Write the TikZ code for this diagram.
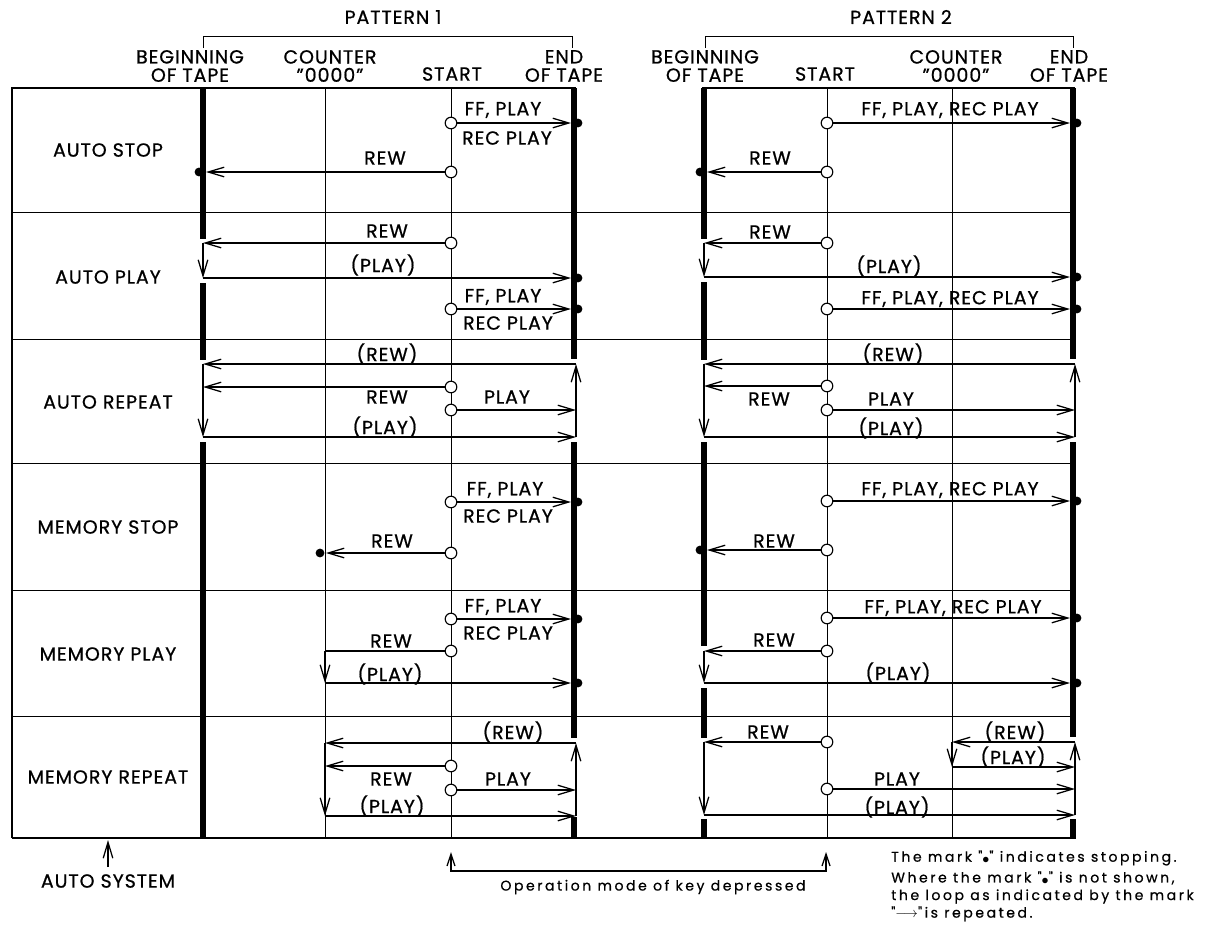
\documentclass[tikz,border=0pt]{standalone}
\usepackage{fontspec}
\setmainfont{Poppins}[LetterSpace=5, FakeBold=0.8]
\newfontfamily\notefont{Poppins}[LetterSpace=18, FakeBold=0.6]
\usetikzlibrary{arrows.meta}

\newcommand{\stopmark}{\raisebox{-0.25ex}{$\bullet$}}

\tikzset{
  lbl/.style={font=\fontsize{13.5}{13}\selectfont, inner sep=0pt, align=center},
  note/.style={font=\notefont\fontsize{10}{12.5}\selectfont, inner sep=0pt, align=left},
  gridline/.style={line width=0.6pt},
  frameline/.style={line width=1.2pt},
  tapebar/.style={line width=1.5mm},
  track/.style={line width=0.9pt},
  flow/.style={track, -{Straight Barb[length=4mm,width=2.4mm]}},
  span/.style={track, {Straight Barb[length=3mm,width=2mm]}-{Straight Barb[length=3mm,width=2mm]}},
  startpt/.style={circle, draw, fill=white, line width=0.8pt, inner sep=0pt, minimum size=2.9mm},
  stopdot/.style={circle, fill, inner sep=0pt, minimum size=2.2mm},
}

\begin{document}
\begin{tikzpicture}[x=0.25mm, y=-0.25mm]
\useasboundingbox (0,0) rectangle (1222,941);

% table frame, rows and the thin START / COUNTER lines
\draw[frameline] (12,838) -- (12,88) -- (576,88);
\draw[frameline] (702,88) -- (1075,88);
\draw[frameline] (12,838) -- (1076,838);
\foreach \y in {212,339,463,590,716}
  \draw[gridline] (12,\y) -- (1073,\y);
\foreach \x in {325,451,827,952}
  \draw[gridline] (\x,88) -- (\x,838);

% beginning / end of tape
\draw[tapebar] (203,88) -- (203,239) (203,283) -- (203,360) (203,442) -- (203,838);
\draw[tapebar] (574,88) -- (574,359) (574,442) -- (574,738) (574,817) -- (574,838);
\draw[tapebar] (704,88) -- (704,239) (704,282) -- (704,360) (704,442) -- (704,646)
  (704,688) -- (704,738) (704,819) -- (704,838);
\draw[tapebar] (1073,88) -- (1073,359) (1073,442) -- (1073,737) (1073,819) -- (1073,838);

% headings
\node[lbl] (pat1) at (393,17) {PATTERN 1};
\node[lbl] (pat2) at (901,17) {PATTERN 2};
\draw[gridline] (203,48) -- (203,36) -- (572,36) -- (572,48);
\draw[gridline] (705,48) -- (705,36) -- (1073,36) -- (1073,48);
\node[lbl] (begA) at (190,66) {BEGINNING\\OF TAPE};
\node[lbl] (cntA) at (330,66) {COUNTER\\"0000"};
\node[lbl] (staA) at (452,74) {START};
\node[lbl] (endA) at (564,66) {END\\OF TAPE};
\node[lbl] (begB) at (705,66) {BEGINNING\\OF TAPE};
\node[lbl] (staB) at (825,74) {START};
\node[lbl] (cntB) at (956,66) {COUNTER\\"0000"};
\node[lbl] (endB) at (1069,66) {END\\OF TAPE};

% modes
\foreach \n/\y/\t in {m1/150/AUTO STOP, m2/277/AUTO PLAY, m3/402/AUTO REPEAT,
    m4/527/MEMORY STOP, m5/654/MEMORY PLAY, m6/777/MEMORY REPEAT}
  \node[lbl] (\n) at (108,\y) {\t};

% key pressed at START
\foreach \n/\x/\y in {a1ff/451/123, a1rew/451/172, a2rew/451/243, a2ff/451/309,
    a3rew/451/387, a3play/451/410, a4ff/451/502, a4rew/451/553,
    a5ff/451/619, a5rew/451/651, a6rew/451/766, a6play/451/790,
    b1ff/827/123, b1rew/827/172, b2rew/827/243, b2ff/827/309,
    b3rew/827/386, b3play/827/410, b4ff/827/501, b4rew/827/550,
    b5ff/827/618, b5rew/827/651, b6rew/827/742, b6play/827/789}
  \node[startpt] (\n) at (\x,\y) {};

% stops
\foreach \n/\x/\y in {a1ffstop/578/123, a1rewstop/199/172, a2playstop/578/278,
    a2ffstop/578/309, a4ffstop/578/502, a4rewstop/320/553, a5ffstop/578/619,
    a5playstop/578/683, b1ffstop/1077/123, b1rewstop/700/172, b2playstop/1077/277,
    b2ffstop/1077/309, b4ffstop/1077/501, b4rewstop/700/550, b5ffstop/1077/618,
    b5playstop/1077/683}
  \node[stopdot] (\n) at (\x,\y) {};

% ends and corners of the runs
\foreach \n/\x/\y in {a1ffend/571/123, a1rewend/206/172,
    a2rewend/203/243, a2playbeg/203/278, a2playend/571/278, a2ffend/571/309,
    a3tr/576/364, a3tl/203/364, a3bl/203/437, a3br/576/437, a3rewend/203/387, a3playend/576/410,
    a4ffend/571/502, a4rewend/326/553,
    a5ffend/571/619, a5rewend/325/651, a5playbeg/325/683, a5playend/571/683,
    a6tr/576/743, a6tl/325/743, a6bl/325/816, a6br/576/816, a6rewend/325/766, a6playend/576/790,
    b1ffend/1070/123, b1rewend/707/172,
    b2rewend/704/243, b2playbeg/704/277, b2playend/1070/277, b2ffend/1070/309,
    b3tr/1075/364, b3tl/704/364, b3bl/704/437, b3br/1075/437, b3rewend/704/386, b3playend/1075/410,
    b4ffend/1070/501, b4rewend/707/550,
    b5ffend/1070/618, b5rewend/704/651, b5playbeg/704/683, b5playend/1070/683,
    b6rewend/704/742, b6bl/704/815, b6br/1075/815, b6tr/1075/742,
    b6ctop/952/742, b6cbot/952/767, b6cend/1075/767, b6playend/1075/789}
  \coordinate (\n) at (\x,\y);

\foreach \a/\b in {a1ff/a1ffend, a1rew/a1rewend,
    a2rew/a2rewend, a2rewend/a2playbeg, a2playbeg/a2playend, a2ff/a2ffend,
    a3tr/a3tl, a3tl/a3bl, a3bl/a3br, a3br/a3tr, a3rew/a3rewend, a3play/a3playend,
    a4ff/a4ffend, a4rew/a4rewend,
    a5ff/a5ffend, a5rewend/a5playbeg, a5playbeg/a5playend,
    a6tr/a6tl, a6tl/a6bl, a6bl/a6br, a6br/a6tr, a6rew/a6rewend, a6play/a6playend,
    b1ff/b1ffend, b1rew/b1rewend,
    b2rew/b2rewend, b2rewend/b2playbeg, b2playbeg/b2playend, b2ff/b2ffend,
    b3tr/b3tl, b3tl/b3bl, b3bl/b3br, b3br/b3tr, b3rew/b3rewend, b3play/b3playend,
    b4ff/b4ffend, b4rew/b4rewend,
    b5ff/b5ffend, b5rew/b5rewend, b5rewend/b5playbeg, b5playbeg/b5playend,
    b6rew/b6rewend, b6rewend/b6bl, b6bl/b6br, b6br/b6tr, b6tr/b6ctop,
    b6ctop/b6cbot, b6cbot/b6cend, b6play/b6playend}
  \draw[flow] (\a) -- (\b);
\draw[track] (a5rew) -- (a5rewend);

% key names
\foreach \n/\x/\y/\t in {a1ffl/503/110/{FF, PLAY}, a1recl/507/138/REC PLAY, a1rewl/385/158/REW,
    a2rewl/387/231/REW, a2playl/383/265/(PLAY), a2ffl/503/297/{FF, PLAY}, a2recl/508/323/REC PLAY,
    a3rrl/387/354/(REW), a3rewl/387/397/REW, a3playl/507/397/PLAY, a3ppl/385/427/(PLAY),
    a4ffl/505/490/{FF, PLAY}, a4recl/508/516/REC PLAY, a4rewl/392/541/REW,
    a5ffl/503/607/{FF, PLAY}, a5recl/508/633/REC PLAY, a5rewl/391/641/REW, a5playl/390/674/(PLAY),
    a6rrl/513/732/(REW), a6rewl/391/779/REW, a6playl/508/779/PLAY, a6ppl/392/806/(PLAY),
    b1ffl/950/110/{FF, PLAY, REC PLAY}, b1rewl/770/158/REW,
    b2rewl/770/232/REW, b2playl/889/266/(PLAY), b2ffl/950/299/{FF, PLAY, REC PLAY},
    b3rrl/893/354/(REW), b3rewl/769/399/REW, b3playl/891/399/PLAY, b3ppl/891/428/(PLAY),
    b4ffl/950/490/{FF, PLAY,  REC PLAY}, b4rewl/774/541/REW,
    b5ffl/953/608/{FF, PLAY, REC PLAY}, b5rewl/774/640/REW, b5playl/898/673/(PLAY),
    b6rewl/768/732/REW, b6rrl/1015/732/(REW), b6ppl/1013/757/(PLAY),
    b6playl/897/779/PLAY, b6pbl/897/807/(PLAY)}
  \node[lbl] (\n) at (\x,\y) {\t};

% notes under the table
\node[lbl] (autosys) at (108,881) {AUTO SYSTEM};
\coordinate (autofoot) at (108,867);
\coordinate (autotip) at (108,840);
\draw[flow] (autofoot) -- (autotip);
\coordinate (opAtip) at (451,852);
\coordinate (opA) at (451,871);
\coordinate (opB) at (826,871);
\coordinate (opBtip) at (826,852);
\draw[span] (opAtip) -- (opA) -- (opB) -- (opBtip);
\node[note] (opnote) at (653,887) {Operation mode of key depressed};
\node[note, anchor=west] (stopnote) at (891,858) {The mark "\stopmark" indicates stopping.};
\node[note, anchor=north west] (loopnote) at (891,871) {Where the mark "\stopmark" is not shown,\\the loop as indicated by the mark\\"$\longrightarrow$"is repeated.};
\end{tikzpicture}
\end{document}
